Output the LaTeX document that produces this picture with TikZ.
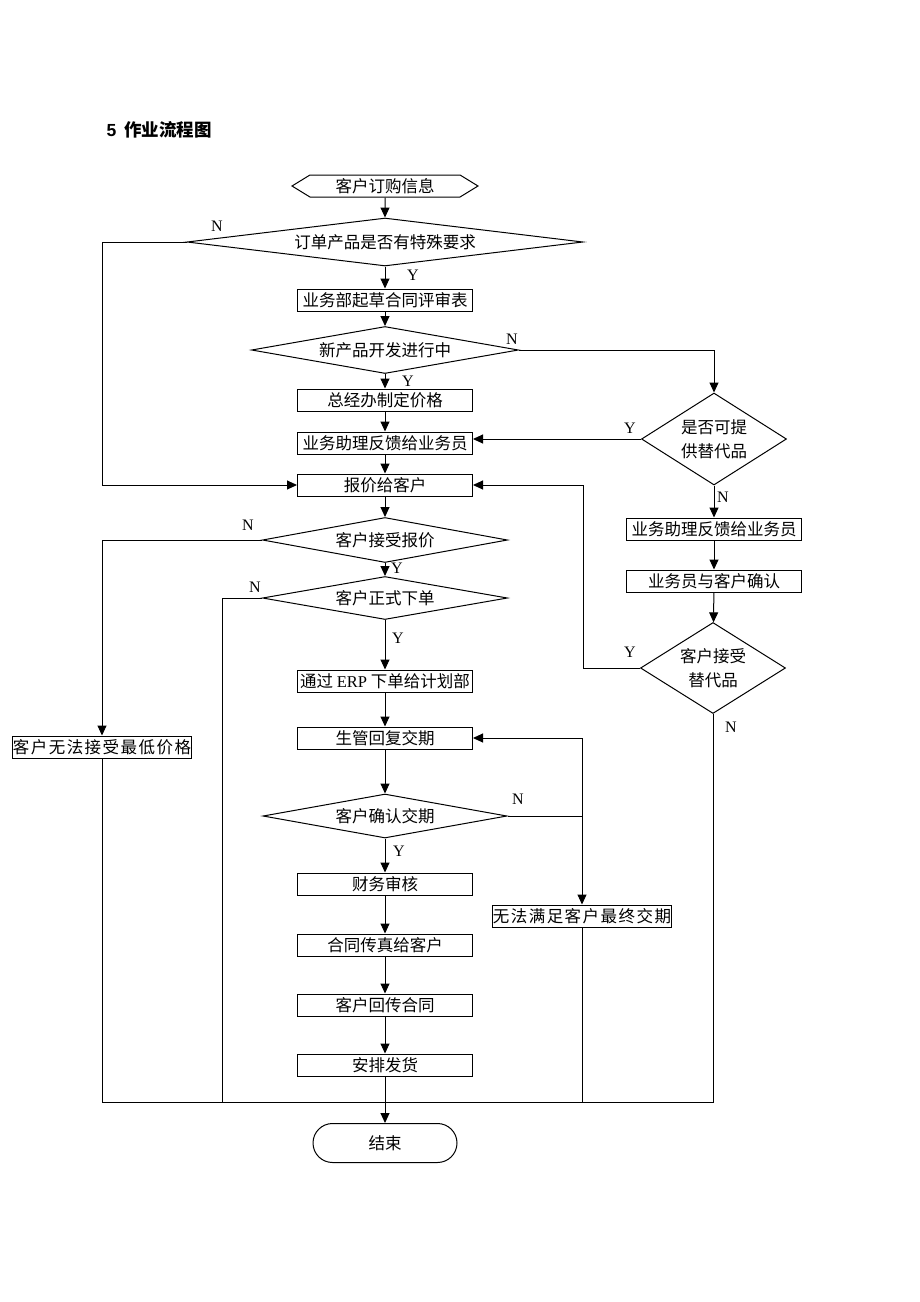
\documentclass[tikz,border=0pt]{standalone}
\usepackage{fontspec}
\setmainfont{Liberation Serif}
\newfontfamily\cjk{Noto Sans CJK SC}
\newfontfamily\headfont{Liberation Sans}
\usepackage{tikz}
\usetikzlibrary{positioning, arrows.meta, calc, shapes.geometric, shapes.misc, shapes.symbols}
\newcommand{\flowfont}{\fontsize{16.5}{24}\selectfont\cjk}

\begin{document}
\begin{tikzpicture}[x=1pt, y=-1pt, line width=1pt,
    processnode/.style={rectangle, draw=black, minimum width=175, minimum height=22, inner sep=0pt, font=\flowfont},
    widenode/.style={processnode, font=\flowfont\addfontfeature{LetterSpace=9}},
    decisionnode/.style={diamond, draw=black, inner sep=0pt, align=center, font=\flowfont},
    startnode/.style={signal, signal to=west and east, signal pointer angle=63, draw=black, minimum width=186, minimum height=22, inner sep=0pt, font=\flowfont},
    endnode/.style={rounded rectangle, draw=black, minimum width=144, minimum height=39, inner sep=0pt, font=\flowfont},
    yesno/.style={inner sep=0pt, font=\fontsize{16}{18}\selectfont},
    arrowline/.style={-{Triangle[length=10pt, width=9pt]}}
]
\useasboundingbox (0,0) rectangle (920,1302);

\node[anchor=west, inner sep=0pt] (title) at (106,130) {\fontsize{17.5}{20}\selectfont{\headfont\bfseries 5}\hspace{8pt}{\cjk\bfseries 作业流程图}};

% main column
\node[startnode](order) at (385,186) {客户订购信息};
\node[decisionnode, minimum width=396, minimum height=48, aspect=8.25](special) at (385,242) {订单产品是否有特殊要求};
\node[processnode](draft) at (385,300) {业务部起草合同评审表};
\node[decisionnode, minimum width=267, minimum height=47, aspect=5.7](newprod) at (385,350) {新产品开发进行中};
\node[processnode](price) at (385,400) {总经办制定价格};
\node[processnode](feedback) at (385,443) {业务助理反馈给业务员};
\node[processnode](quote) at (385,485) {报价给客户};
\node[decisionnode, minimum width=245, minimum height=45, aspect=5.4](accept) at (385,540) {客户接受报价};
\node[decisionnode, minimum width=245, minimum height=43, aspect=5.7](formal) at (385,598) {客户正式下单};
\node[processnode](erp) at (385,681) {通过 {\rmfamily ERP} 下单给计划部};
\node[processnode](reply) at (385,738) {生管回复交期};
\node[decisionnode, minimum width=244, minimum height=44, aspect=5.5](confirm) at (385,816) {客户确认交期};
\node[processnode](finance) at (385,884) {财务审核};
\node[processnode](fax) at (385,945) {合同传真给客户};
\node[processnode](back) at (385,1005) {客户回传合同};
\node[processnode](ship) at (385,1065) {安排发货};
\node[endnode](finish) at (385,1143) {结束};

% right and left columns
\node[decisionnode, minimum width=145, minimum height=92, aspect=1.58](alt) at (714,439) {是否可提\\供替代品};
\node[processnode](altfb) at (714,529) {业务助理反馈给业务员};
\node[processnode](talk) at (714,581) {业务员与客户确认};
\node[decisionnode, minimum width=145, minimum height=91, aspect=1.58](subst) at (713,668) {客户接受\\替代品};
\node[widenode, minimum width=176](lowprice) at (102,747) {客户无法接受最低价格};
\node[widenode, minimum width=176](nodate) at (582,916) {无法满足客户最终交期};

\coordinate (ybend) at (583,668);
\coordinate (njoin) at (582,816);
\coordinate (bottomr) at (713,1102);
\coordinate (bottoml) at (222,1102);

% connectors
\draw[arrowline] (order) -- (special);
\draw[arrowline] (special) -- (draft);
\draw[arrowline] (special.west) -- (102,242) |- (quote.west);
\draw[arrowline] (draft) -- (newprod);
\draw[arrowline] (newprod) -- (price);
\draw[arrowline] (newprod.east) -| (alt.north);
\draw[arrowline] (price) -- (feedback);
\draw[arrowline] (alt.west) -- (alt.west -| feedback.east);
\draw[arrowline] (feedback) -- (quote);
\draw[arrowline] (alt) -- (altfb);
\draw[arrowline] (altfb) -- (talk);
\draw[arrowline] (talk) -- (subst);
\draw[arrowline] (subst.west) -- (ybend) |- (quote.east);
\draw[arrowline] (quote) -- (accept);
\draw[arrowline] (accept.west) -| (lowprice.north);
\draw[arrowline] (accept) -- (formal);
\draw (formal.west) -| (bottoml);
\draw[arrowline] (formal) -- (erp);
\draw[arrowline] (erp) -- (reply);
\draw[arrowline] (reply) -- (confirm);
\draw[arrowline] (confirm) -- (finance);
\draw (confirm.east) -- (njoin);
\draw[arrowline] (njoin) -- (nodate);
\draw[arrowline] (njoin) |- (reply.east);
\draw[arrowline] (finance) -- (fax);
\draw[arrowline] (fax) -- (back);
\draw[arrowline] (back) -- (ship);
\draw[arrowline] (ship) -- (finish);
\draw (lowprice.south) |- (bottomr) -- (subst.south);
\draw (nodate.south) -- (nodate.south |- bottomr);

% Y and N labels
\node[yesno] at (217,226) {N};
\node[yesno] at (413,275) {Y};
\node[yesno] at (512,339) {N};
\node[yesno] at (408,381) {Y};
\node[yesno] at (630,428) {Y};
\node[yesno] at (723,497) {N};
\node[yesno] at (248,525) {N};
\node[yesno] at (397,568) {Y};
\node[yesno] at (255,587) {N};
\node[yesno] at (398,638) {Y};
\node[yesno] at (630,652) {Y};
\node[yesno] at (731,727) {N};
\node[yesno] at (518,799) {N};
\node[yesno] at (399,851) {Y};
\end{tikzpicture}
\end{document}
